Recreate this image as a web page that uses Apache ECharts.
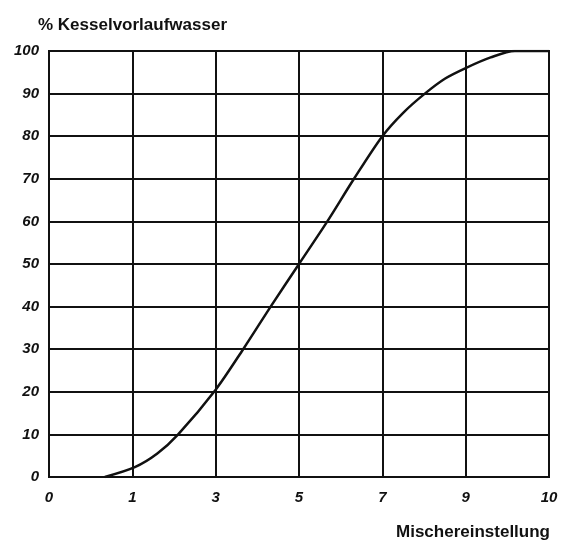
<!DOCTYPE html>
<html>
<head>
<meta charset="utf-8">
<script src="https://cdn.jsdelivr.net/npm/echarts@6/dist/echarts.min.js"></script>
<style>
html,body{margin:0;padding:0;background:#fff;}
#c{width:562px;height:544px;}
</style>
</head>
<body>
<div id="c"></div>
<script>
// x tick labels (Mischereinstellung), equally spaced positions 0..6
var xTickLabels = ["0", "1", "3", "5", "7", "9", "10"];
var yTicks = [0, 10, 20, 30, 40, 50, 60, 70, 80, 90, 100];
// curve: x as position along the equally spaced axis, y in %
var curveX = [0.67, 1.03, 1.3, 1.55, 2.0, 2.33, 2.66, 3.0, 3.34, 3.66, 4.0, 4.25, 4.51, 4.75, 5.0, 5.3, 5.59, 6.0];
var curveY = [0, 2.3, 5.5, 10, 20.5, 30, 40, 50, 60, 70, 80, 85.5, 90, 93.5, 96, 98.5, 100, 100];

var data = curveX.map(function (x, i) { return [x, curveY[i]]; });

var chart = echarts.init(document.getElementById('c'));
var fontFam = '"Liberation Sans", Arial, sans-serif';
chart.setOption({
  backgroundColor: '#fff',
  animation: false,
  grid: { left: 49, right: 13, top: 51, bottom: 67, show: true, borderColor: '#111', borderWidth: 2 },
  xAxis: {
    type: 'value', min: 0, max: 6, interval: 1,
    axisLine: { show: true, lineStyle: { color: '#111', width: 2 } },
    axisTick: { show: false },
    splitLine: { show: true, lineStyle: { color: '#111', width: 2 } },
    axisLabel: {
      margin: 13, color: '#111', fontSize: 15, fontStyle: 'italic', fontWeight: 'bold', fontFamily: fontFam,
      formatter: function (v) { return xTickLabels[Math.round(v)]; }
    }
  },
  yAxis: {
    type: 'value', min: 0, max: 100, interval: 10,
    axisLine: { show: true, lineStyle: { color: '#111', width: 2 } },
    axisTick: { show: false },
    splitLine: { show: true, lineStyle: { color: '#111', width: 2 } },
    axisLabel: {
      margin: 10, color: '#111', fontSize: 15, fontStyle: 'italic', fontWeight: 'bold', fontFamily: fontFam
    }
  },
  series: [{
    type: 'line',
    data: data,
    smooth: 0.3,
    showSymbol: false,
    lineStyle: { color: '#111', width: 2.5 },
    z: 5
  }],
  graphic: [
    { type: 'text', left: 38, top: 17, style: { text: '% Kesselvorlaufwasser', fill: '#111', font: 'bold 17px ' + fontFam } },
    { type: 'text', right: 12, top: 524, style: { text: 'Mischereinstellung', fill: '#111', font: 'bold 17px ' + fontFam } }
  ]
});
</script>
</body>
</html>
